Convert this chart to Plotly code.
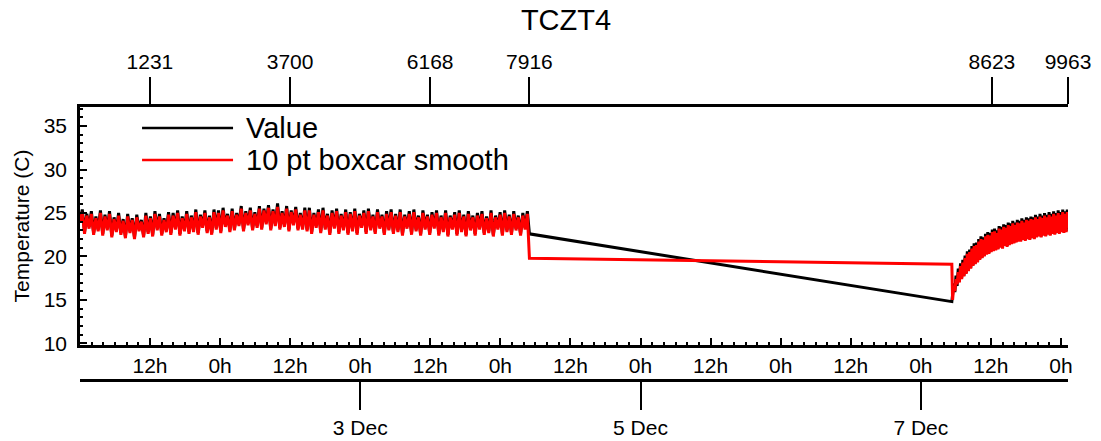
from datetime import datetime, timedelta
import plotly.graph_objects as go

# ---------------- data ----------------
TITLE = "TCZT4"
Y_TITLE = "Temperature (C)"
SERIES_NAMES = ["Value", "10 pt boxcar smooth"]

SAMPLE_SECONDS = 35
SEG1_START = datetime(2023, 12, 1, 0, 1, 0)     # time of sample index 0
SEG2_START = datetime(2023, 12, 7, 5, 19, 0)    # time of sample index 7917 (after data gap)
SEG1_LAST = 7916
LAST_INDEX = 9963

SEG1_IDX = list(range(0, SEG1_LAST, 40)) + [SEG1_LAST]
SEG2_IDX = [SEG1_LAST + 1] + list(range(7930, 9951, 20)) + [LAST_INDEX]

INDEX_TICKS = [1231, 3700, 6168, 7916, 8623, 9963]
DATE_TICKS = [datetime(2023, 12, 3), datetime(2023, 12, 5), datetime(2023, 12, 7)]
FIRST_HOUR_TICK = datetime(2023, 12, 1, 12, 0)
N_HOUR_TICKS = 14          # 12h, 0h, ... up to 0h on 8 Dec

VALUE_SEG1 = [
    24.0, 25.4, 22.8, 24.9, 23.4, 25.2, 22.7, 24.6, 23.1, 25.3,
    22.6, 24.8, 23.2, 25.2, 22.4, 24.5, 23.0, 25.0, 22.7, 24.3,
    22.3, 24.9, 22.9, 24.4, 22.2, 24.8, 23.1, 24.2, 22.4, 25.0,
    22.8, 24.6, 22.5, 25.2, 23.2, 24.9, 22.6, 24.4, 23.0, 25.1,
    22.7, 25.0, 23.3, 25.3, 22.6, 24.6, 23.1, 25.2, 22.8, 24.7,
    23.0, 25.4, 22.7, 24.8, 23.5, 25.3, 22.9, 24.7, 22.7, 25.4,
    23.3, 25.3, 22.9, 25.6, 23.6, 24.9, 23.0, 25.5, 23.2, 25.0,
    23.7, 25.8, 23.1, 25.2, 23.8, 25.6, 23.2, 25.1, 23.5, 25.8,
    23.3, 25.5, 23.9, 25.9, 23.2, 25.4, 23.7, 26.1, 23.3, 25.2,
    23.6, 25.8, 23.1, 25.3, 23.8, 25.7, 23.2, 25.0, 23.3, 25.6,
    23.1, 25.6, 22.8, 25.0, 23.5, 25.4, 22.9, 25.6, 23.3, 24.9,
    22.7, 25.3, 23.4, 25.5, 22.8, 24.9, 23.2, 25.4, 22.7, 25.1,
    23.1, 25.5, 22.7, 24.9, 23.5, 25.3, 22.8, 25.5, 23.2, 24.8,
    22.8, 25.4, 23.4, 24.8, 22.7, 25.2, 23.2, 25.4, 22.8, 24.9,
    23.0, 25.4, 22.6, 24.8, 23.4, 25.2, 22.7, 25.4, 23.1, 24.7,
    22.6, 25.3, 23.3, 24.8, 22.7, 25.1, 23.4, 25.3, 22.6, 24.7,
    23.0, 25.3, 22.5, 24.7, 23.3, 25.1, 22.6, 25.3, 23.0, 24.8,
    22.5, 25.2, 23.2, 24.7, 22.6, 25.0, 23.3, 25.2, 22.7, 24.6,
    22.9, 25.3, 22.5, 24.7, 23.3, 25.1, 22.6, 25.3, 23.0, 24.8,
    22.7, 25.2, 23.2, 24.7, 22.6, 25.0, 23.3, 25.2, 22.6,
]
VALUE_SEG2 = [
    14.8,
    15.6, 16.9, 15.9, 17.8, 16.6, 18.6, 17.1, 19.2, 17.5, 19.6,
    17.8, 20.1, 18.1, 20.6, 18.4, 20.8, 18.7, 21.2, 19.0, 21.5,
    19.2, 21.6, 19.4, 22.0, 19.7, 22.3, 19.9, 22.2, 20.1, 22.6,
    20.3, 22.8, 20.4, 22.7, 20.6, 23.1, 20.7, 23.2, 20.8, 23.0,
    20.9, 23.5, 21.1, 23.4, 21.0, 23.7, 21.3, 23.6, 21.2, 23.9,
    21.4, 23.8, 21.5, 24.1, 21.6, 23.9, 21.7, 24.2, 21.8, 24.1,
    21.8, 24.4, 22.0, 24.2, 21.9, 24.5, 22.1, 24.4, 22.0, 24.6,
    22.2, 24.5, 22.1, 24.8, 22.3, 24.6, 22.4, 24.9, 22.3, 24.7,
    22.5, 25.0, 22.4, 24.8, 22.6, 25.1, 22.5, 24.9, 22.7, 25.2,
    22.6, 25.0, 22.8, 25.3, 22.7, 25.1, 22.9, 25.4, 22.8, 25.2,
    22.9, 25.4,
    23.2,
]
SMOOTH_SEG1 = [
    23.9, 25.1, 22.6, 24.7, 23.2, 24.9, 22.5, 24.4, 22.9, 25.0,
    22.4, 24.6, 23.0, 24.9, 22.2, 24.3, 22.8, 24.7, 22.5, 24.1,
    22.1, 24.6, 22.7, 24.2, 22.0, 24.5, 22.9, 24.0, 22.2, 24.7,
    22.6, 24.4, 22.3, 24.9, 23.0, 24.6, 22.4, 24.2, 22.8, 24.8,
    22.5, 24.7, 23.1, 25.0, 22.4, 24.4, 22.9, 24.9, 22.6, 24.5,
    22.8, 25.1, 22.5, 24.6, 23.3, 25.0, 22.7, 24.5, 22.5, 25.1,
    23.1, 25.0, 22.7, 25.3, 23.4, 24.7, 22.8, 25.2, 23.0, 24.8,
    23.5, 25.5, 22.9, 25.0, 23.6, 25.3, 23.0, 24.9, 23.3, 25.5,
    23.1, 25.3, 23.7, 25.6, 23.0, 25.2, 23.5, 25.7, 23.1, 25.0,
    23.4, 25.5, 22.9, 25.1, 23.6, 25.4, 23.0, 24.8, 23.1, 25.3,
    22.9, 25.3, 22.6, 24.8, 23.3, 25.1, 22.7, 25.3, 23.1, 24.7,
    22.5, 25.0, 23.2, 25.2, 22.6, 24.7, 23.0, 25.1, 22.5, 24.9,
    22.9, 25.2, 22.5, 24.7, 23.3, 25.0, 22.6, 25.2, 23.0, 24.6,
    22.6, 25.1, 23.2, 24.6, 22.5, 24.9, 23.0, 25.1, 22.6, 24.7,
    22.8, 25.1, 22.4, 24.6, 23.2, 24.9, 22.5, 25.1, 22.9, 24.5,
    22.4, 25.0, 23.1, 24.6, 22.5, 24.8, 23.2, 25.0, 22.4, 24.5,
    22.8, 25.0, 22.3, 24.5, 23.1, 24.8, 22.4, 25.0, 22.8, 24.6,
    22.3, 24.9, 23.0, 24.5, 22.4, 24.7, 23.1, 24.9, 22.5, 24.4,
    22.7, 25.0, 22.3, 24.5, 23.1, 24.8, 22.4, 25.0, 22.8, 24.6,
    22.5, 24.9, 23.0, 24.5, 22.4, 24.7, 23.1, 24.9, 19.8,
]
SMOOTH_SEG2 = [
    19.1,
    15.0, 16.5, 16.0, 17.4, 16.8, 18.2, 17.0, 18.9, 17.4, 19.3,
    17.7, 19.8, 18.0, 20.3, 18.3, 20.5, 18.6, 20.9, 18.9, 21.2,
    19.1, 21.3, 19.3, 21.7, 19.6, 22.0, 19.8, 21.9, 20.0, 22.3,
    20.2, 22.5, 20.3, 22.4, 20.5, 22.8, 20.6, 22.9, 20.7, 22.7,
    20.8, 23.2, 21.0, 23.1, 20.9, 23.4, 21.2, 23.3, 21.1, 23.6,
    21.3, 23.5, 21.4, 23.8, 21.5, 23.6, 21.6, 23.9, 21.7, 23.8,
    21.7, 24.1, 21.9, 23.9, 21.8, 24.2, 22.0, 24.1, 21.9, 24.3,
    22.1, 24.2, 22.0, 24.5, 22.2, 24.3, 22.3, 24.6, 22.2, 24.4,
    22.4, 24.7, 22.3, 24.5, 22.5, 24.8, 22.4, 24.6, 22.6, 24.9,
    22.5, 24.7, 22.7, 25.0, 22.6, 24.8, 22.8, 25.1, 22.7, 24.9,
    22.8, 25.1,
    23.3,
]

# ---------------- styles ----------------
FONT = "Liberation Sans, Arial, Helvetica, sans-serif"
COLORS = ["#000000", "#ff0000"]
LINE_W = 3.0
AX_W = 2.5
TICK_FONT = 21
FIG_W, FIG_H = 1101, 441


def index_to_time(i):
    if i <= SEG1_LAST:
        return SEG1_START + timedelta(seconds=i * SAMPLE_SECONDS)
    return SEG2_START + timedelta(seconds=(i - SEG1_LAST - 1) * SAMPLE_SECONDS)


idx_all = SEG1_IDX + SEG2_IDX
t_all = [index_to_time(i) for i in idx_all]
value_all = VALUE_SEG1 + VALUE_SEG2
smooth_all = SMOOTH_SEG1 + SMOOTH_SEG2

x_range = [SEG1_START, index_to_time(LAST_INDEX)]
hour_ticks = [FIRST_HOUR_TICK + timedelta(hours=12 * k) for k in range(N_HOUR_TICKS)]

fig = go.Figure()
fig.add_trace(go.Scatter(x=t_all, y=value_all, mode="lines", name=SERIES_NAMES[0],
                         line=dict(color=COLORS[0], width=LINE_W)))
fig.add_trace(go.Scatter(x=t_all, y=smooth_all, mode="lines", name=SERIES_NAMES[1],
                         line=dict(color=COLORS[1], width=LINE_W)))
# invisible copies so the sample-index and date axes are drawn
for ax in ("x2", "x3"):
    fig.add_trace(go.Scatter(x=t_all, y=value_all, xaxis=ax, yaxis="y", mode="lines",
                             line=dict(width=0, color="rgba(0,0,0,0)"), opacity=0,
                             hoverinfo="skip", showlegend=False))

# custom legend (long line swatches like the reference)
legend_rows = [(0.923, SERIES_NAMES[0], COLORS[0]), (0.806, SERIES_NAMES[1], COLORS[1])]
for yy, name, col in legend_rows:
    fig.add_shape(type="line", xref="paper", yref="paper", x0=0.0628, x1=0.1549, y0=yy, y1=yy,
                  line=dict(color=col, width=2.6))
    fig.add_annotation(xref="paper", yref="paper", x=0.166, y=yy, text=name, showarrow=False,
                       xanchor="left", yanchor="middle", font=dict(size=29, color="black"))

fig.update_layout(
    width=FIG_W, height=FIG_H,
    margin=dict(l=80, r=33, t=107, b=61, autoexpand=False),
    plot_bgcolor="white", paper_bgcolor="white",
    showlegend=False,
    font=dict(family=FONT, color="black", size=TICK_FONT),
    title=dict(text=TITLE, xref="container", x=566 / FIG_W, xanchor="center",
               yref="container", y=1 - 20 / FIG_H, yanchor="middle",
               font=dict(size=29, color="black")),
    xaxis=dict(
        type="date", range=x_range, autorange=False, anchor="y", side="bottom",
        showline=True, linewidth=AX_W, linecolor="black",
        ticks="inside", ticklen=7, tickwidth=2, tickcolor="black",
        tickmode="array", tickvals=hour_ticks, tickformat="%-Hh",
        showgrid=False, zeroline=False, tickfont=dict(size=TICK_FONT),
        minor=dict(ticks="inside", ticklen=3.5, tickwidth=1.5, tickcolor="black",
                   tick0=FIRST_HOUR_TICK, dtick=2 * 3600 * 1000, showgrid=False),
    ),
    xaxis2=dict(
        type="date", range=x_range, autorange=False, overlaying="x", anchor="y", side="top",
        tickmode="array", tickvals=[index_to_time(i) for i in INDEX_TICKS],
        ticktext=[str(i) for i in INDEX_TICKS],
        ticks="outside", ticklen=27, tickwidth=2, tickcolor="black",
        showline=True, linewidth=AX_W, linecolor="black",
        showgrid=False, zeroline=False, tickfont=dict(size=TICK_FONT),
    ),
    xaxis3=dict(
        type="date", range=x_range, autorange=False, overlaying="x", anchor="free", position=0,
        side="bottom", tickmode="array", tickvals=DATE_TICKS, tickformat="%-d %b",
        ticks="outside", ticklen=28, tickwidth=2, tickcolor="black",
        showline=True, linewidth=AX_W, linecolor="black",
        showgrid=False, zeroline=False, tickfont=dict(size=TICK_FONT),
    ),
    yaxis=dict(
        domain=[0.128, 1], range=[9.8, 37.2], autorange=False,
        tick0=10, dtick=5, ticks="inside", ticklen=7, tickwidth=2, tickcolor="black",
        showline=True, linewidth=AX_W, linecolor="black",
        showgrid=False, zeroline=False, tickfont=dict(size=TICK_FONT),
        ticklabelstandoff=6,
        minor=dict(ticks="inside", ticklen=3.5, tickwidth=1.5, tickcolor="black",
                   tick0=10, dtick=1, showgrid=False),
        title=dict(text=Y_TITLE, font=dict(size=21), standoff=9),
    ),
)

# remove the browser's default 8 px page margin so the figure fills the window exactly
fig.write_html("out.html", config={"displayModeBar": False},
               post_script="document.body.style.margin='0';")
